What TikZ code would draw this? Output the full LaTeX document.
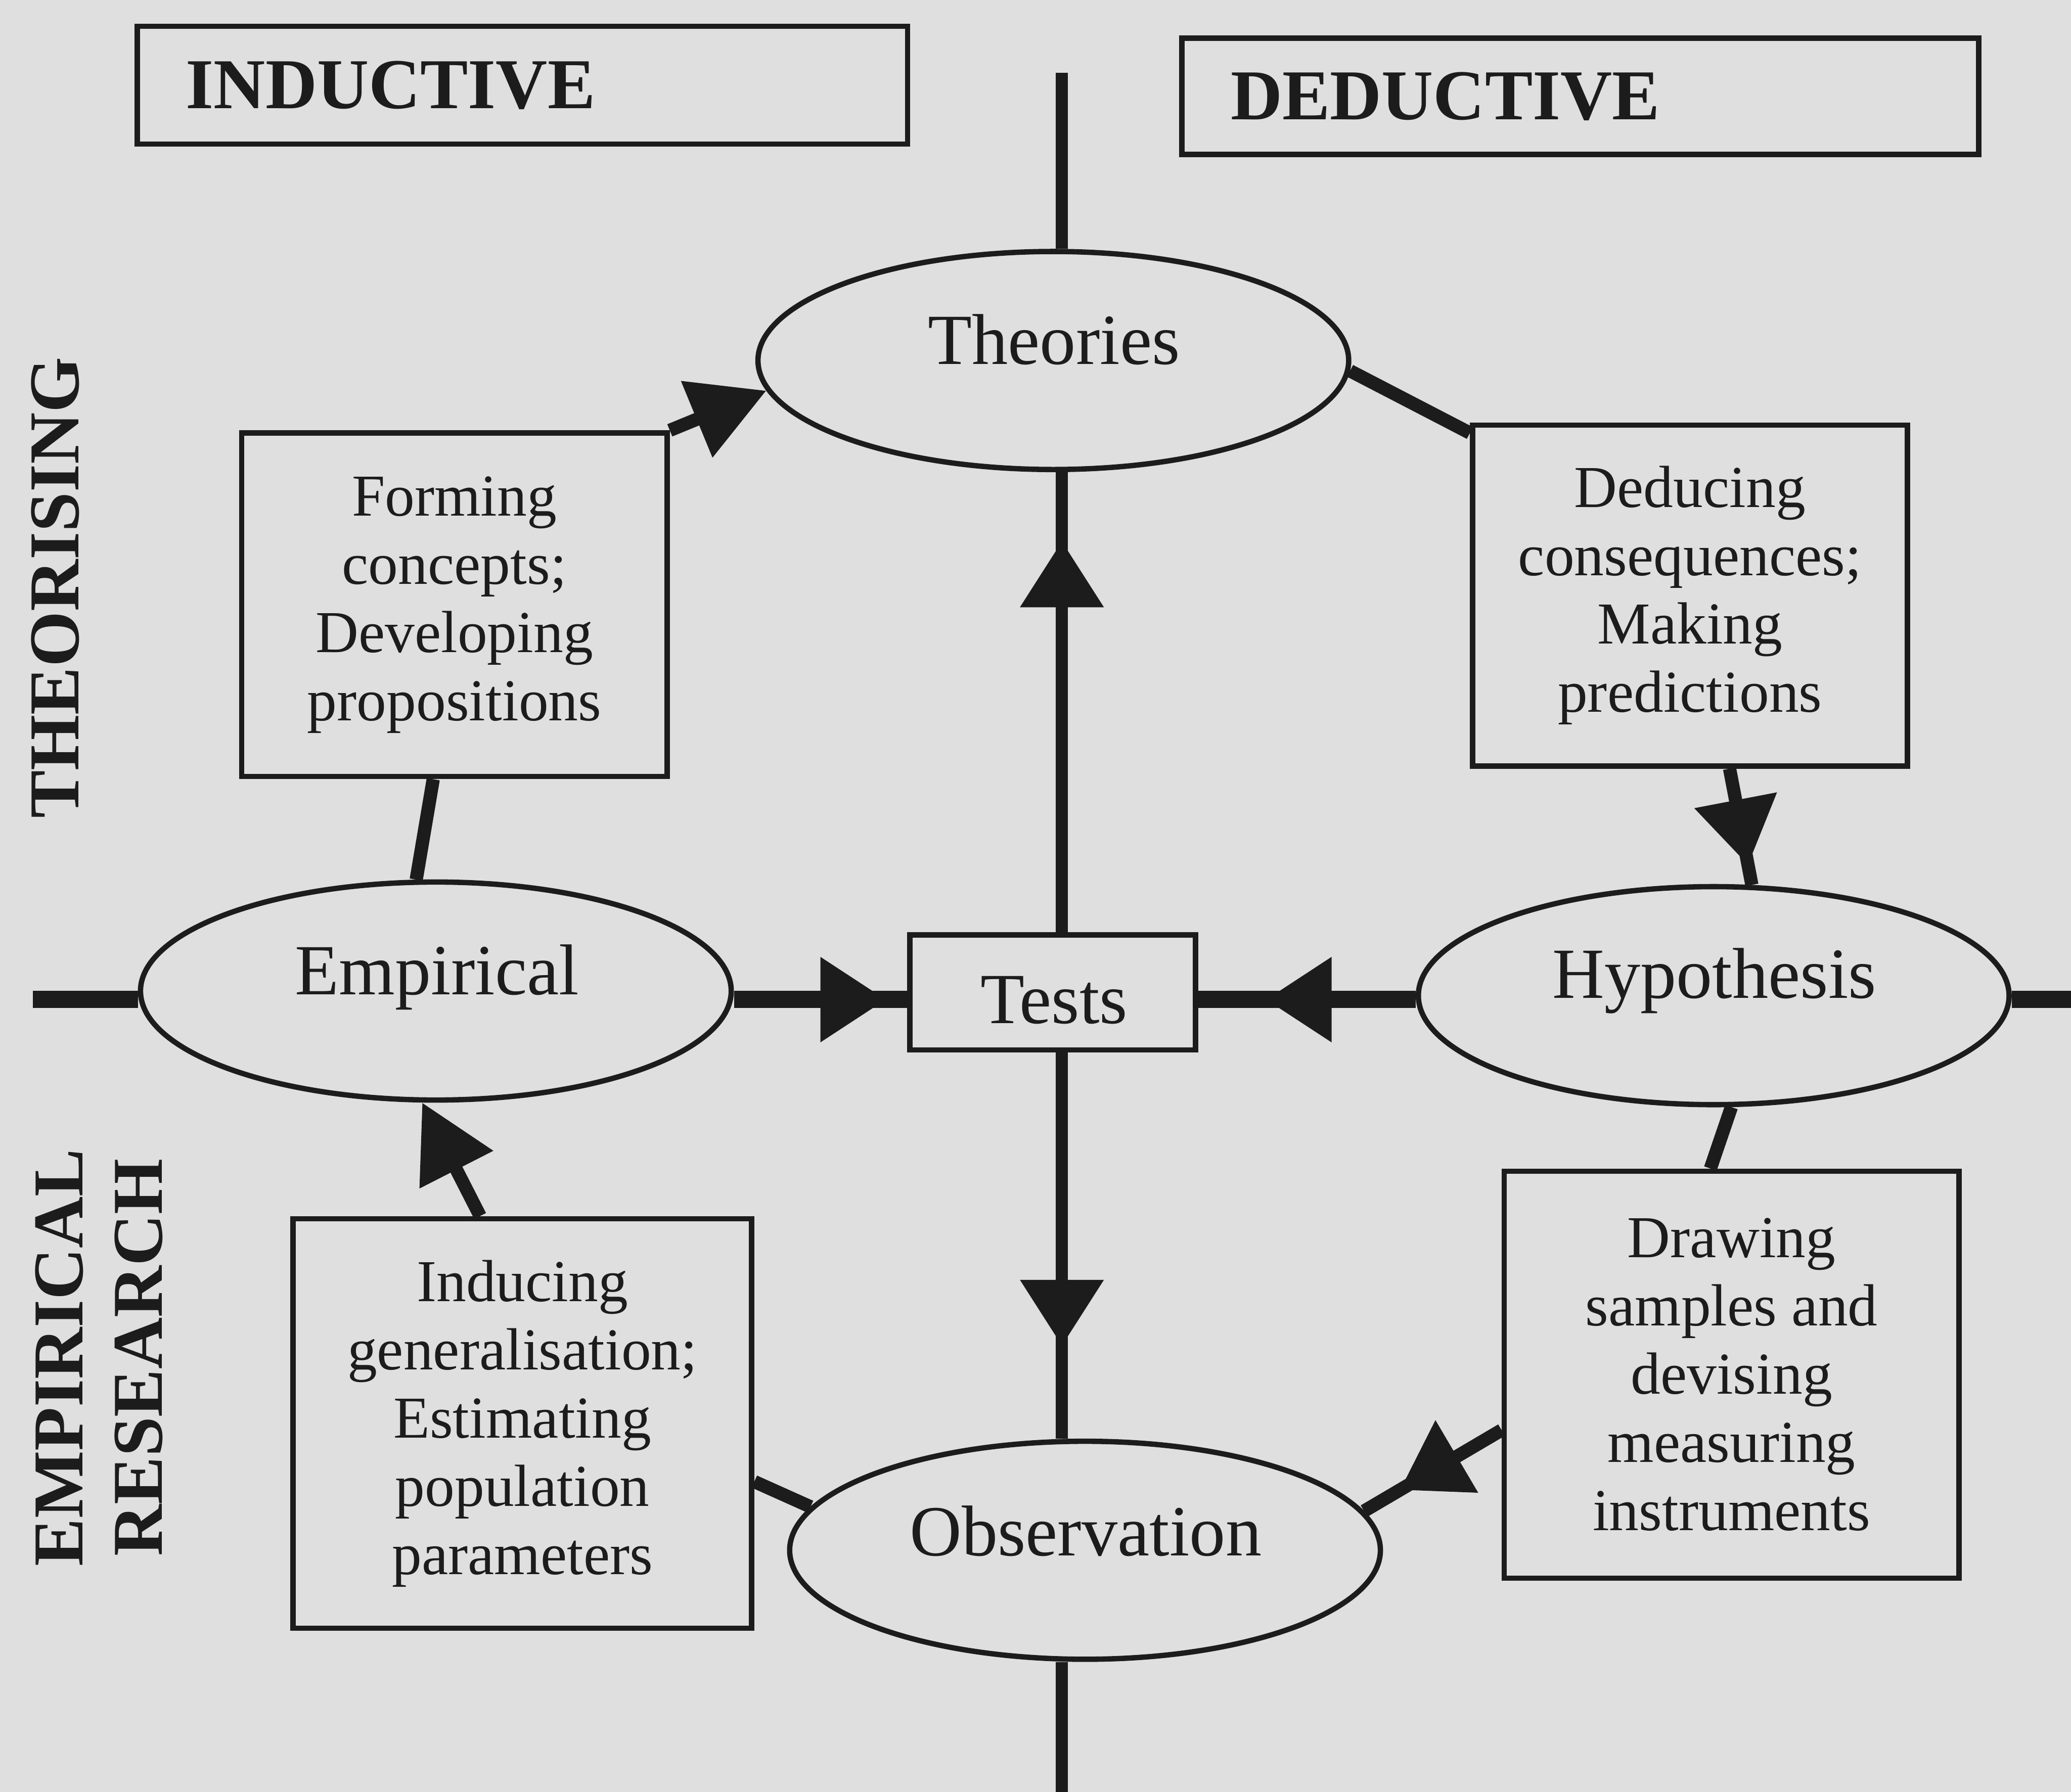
\documentclass[tikz,border=0pt]{standalone}
\usepackage{fontspec}
\setmainfont{Liberation Serif}
\usetikzlibrary{shapes.geometric, arrows.meta, decorations.markings, calc}
\definecolor{bg}{RGB}{223,223,223}
\definecolor{ink}{RGB}{28,28,28}
\begin{document}
\begin{tikzpicture}[x=0.01cm, y=-0.01cm,
  ell/.style={draw, color=ink, line width=1.15pt, ellipse, minimum width=4.47cm, minimum height=1.65cm, inner sep=0pt},
  etxt/.style={font=\fontsize{15.5}{18}\selectfont, inner sep=0pt, anchor=base, text=ink},
  box/.style={draw, color=ink, line width=1.15pt, align=center, inner sep=0pt, font=\fontsize{12.8}{14.7}\selectfont, text=ink},
  hdr/.style={draw, color=ink, line width=1.15pt, align=left, inner ysep=0pt, inner xsep=0.37cm, font=\bfseries\fontsize{15.4}{18}\selectfont, text=ink},
  side/.style={rotate=90, align=center, font=\bfseries\fontsize{15.4}{17}\selectfont, text=ink, inner sep=0pt},
  conn/.style={draw, color=ink, line width=2.85pt},
  vaxis/.style={draw, color=ink, line width=2.65pt},
  haxis/.style={draw, color=ink, line width=3.7pt},
  tip/.style={-{Triangle[length=0.57cm, width=0.6cm]}},
  midarrow/.style={postaction={decorate}, decoration={markings, mark=at position #1 with {\arrow{Triangle[length=0.5cm, width=0.61cm]}}}}
]
\fill[bg] (0,0) rectangle (1568,1357);
\useasboundingbox (0,0) rectangle (1568,1357);

% headers
\node[hdr, text width=5.09cm, minimum height=0.89cm] (indhdr) at (395.5,64.5) {INDUCTIVE};
\node[hdr, text width=5.29cm, minimum height=0.88cm] (dedhdr) at (1196.5,73) {DEDUCTIVE};

% side labels
\node[side] (theorising) at (42,445) {THEORISING};
\node[side] (empres) at (75,1028) {EMPIRICAL\\RESEARCH};

% ellipses
\node[ell] (theo) at (797.5,273) {};
\node[etxt] (theot) at (798,276) {Theories};
\node[ell] (emp) at (330,750.5) {};
\node[etxt] (empt) at (331,753) {Empirical};
\node[ell] (hyp) at (1297.5,754) {};
\node[etxt] (hypt) at (1298,756) {Hypothesis};
\node[ell] (obs) at (821.5,1174) {};
\node[etxt] (obst) at (822,1178) {Observation};

% tests
\node[box, minimum width=2.16cm, minimum height=0.87cm] (tests) at (797,751.5) {};
\node[etxt] (testst) at (798,775) {Tests};

% process boxes
\node[box, minimum width=3.22cm, minimum height=2.60cm] (form) at (344,458)
  {Forming\\concepts;\\Developing\\propositions};
\node[box, minimum width=3.29cm, minimum height=2.58cm] (deduc) at (1279.5,451)
  {Deducing\\consequences;\\Making\\predictions};
\node[box, minimum width=3.44cm, minimum height=3.08cm] (drawb) at (1311,1041)
  {Drawing\\samples and\\devising\\measuring\\instruments};
\node[box, minimum width=3.47cm, minimum height=3.10cm] (ind) at (395.5,1078)
  {Inducing\\generalisation;\\Estimating\\population\\parameters};

% axes
\coordinate (vtop) at (804,55);
\coordinate (vbot) at (804,1357);
\coordinate (hleft) at (25,757);
\coordinate (hright) at (1568,757);

\draw[vaxis] (vtop) -- (vtop |- theo.north);
\draw[vaxis, midarrow=0.85] (vtop |- tests.north) -- (vtop |- theo.south);
\draw[vaxis, midarrow=0.76] (vtop |- tests.south) -- (vtop |- obs.north);
\draw[vaxis] (vtop |- obs.south) -- (vbot);

\draw[haxis] (hleft) -- (hleft -| emp.west);
\draw[haxis, midarrow=0.88] (hleft -| emp.east) -- (hleft -| tests.west);
\draw[haxis, midarrow=0.69] (hleft -| hyp.west) -- (hleft -| tests.east);
\draw[haxis] (hleft -| hyp.east) -- (hright);

% cycle connectors
\draw[conn] (emp.100) -- ($(form.south)+(-16,0)$);
\draw[conn, tip] (form.north east) -- (theo.186);
\draw[conn] (theo.-2) -- ($(deduc.north west)+(0,8)$);
\draw[conn, midarrow=0.83] ($(deduc.south)+(30,0)$) -- (hyp.71);
\draw[conn] (hyp.-81) -- ($(drawb.north)+(-16,0)$);
\draw[conn, midarrow=0.74] ($(drawb.west)+(0,42)$) -- (obs.8);
\draw[conn] ($(ind.east)+(0,44)$) -- (obs.171);
\draw[conn, tip] ($(ind.north)+(-32,0)$) -- (emp.-97);
\end{tikzpicture}
\end{document}
